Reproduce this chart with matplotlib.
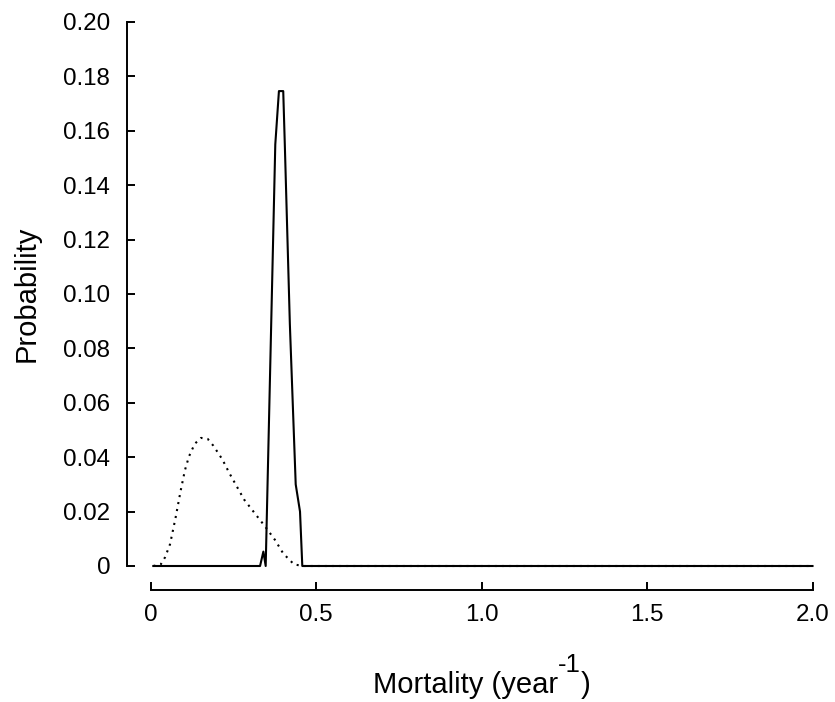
"""Probability of mortality: posterior (solid) and prior (dotted)"""

import numpy as np
import matplotlib
matplotlib.use("Agg")
import matplotlib.pyplot as plt

plt.rcParams['font.family'] = ['Liberation Sans', 'DejaVu Sans']

# solid curve
post_x = [0.0085, 0.331, 0.341, 0.348, 0.377, 0.388, 0.401, 0.406,
          0.421, 0.4387, 0.4517, 0.4586, 2.0]
post_p = [0.0, 0.0, 0.0053, 0.0, 0.155, 0.1746, 0.1746, 0.154,
          0.089, 0.030, 0.020, 0.0, 0.0]

# dotted curve
prior_x = [0.0085, 0.031, 0.044, 0.059, 0.076, 0.091, 0.104, 0.116, 0.1335,
           0.1526, 0.173, 0.190, 0.217, 0.238, 0.260, 0.283, 0.3136, 0.347,
           0.376, 0.401, 0.4335, 0.46, 2.0]
prior_p = [0.0, 0.0006, 0.0032, 0.0080, 0.0179, 0.0276, 0.0352, 0.0402, 0.0449,
           0.0471, 0.0467, 0.0442, 0.0392, 0.0342, 0.0294, 0.0244, 0.0196, 0.0144,
           0.0096, 0.0046, 0.0006, 0.0, 0.0]

xticks = [0, 0.5, 1.0, 1.5, 2.0]
xticklabels = ['0', '0.5', '1.0', '1.5', '2.0']
yticks = [0, 0.02, 0.04, 0.06, 0.08, 0.10, 0.12, 0.14, 0.16, 0.18, 0.20]
yticklabels = ['0'] + ['%.2f' % v for v in yticks[1:]]

W, H = 835, 702
fig = plt.figure(figsize=(W / 100, H / 100), dpi=100)
ax = fig.add_axes([150.5 / W, 1 - 566 / H, (812.5 - 150.5) / W, (566 - 22) / H])

ax.plot(prior_x, prior_p, color='black', lw=1.5, linestyle=(0, (1, 2.4)), clip_on=False)
ax.plot(post_x, post_p, color='black', lw=1.5, clip_on=False)

ax.set_xlim(0, 2)
ax.set_ylim(0, 0.2)
ax.spines['top'].set_visible(False)
ax.spines['right'].set_visible(False)
ax.spines['left'].set_position(('outward', 17))
ax.spines['bottom'].set_position(('outward', 17.3))
ax.spines['left'].set_bounds(0, 0.2)
ax.spines['bottom'].set_bounds(0, 2)
for s in ['left', 'bottom']:
    ax.spines[s].set_linewidth(1.4)

ax.set_xticks(xticks)
ax.set_xticklabels(xticklabels)
ax.set_yticks(yticks)
ax.set_yticklabels(yticklabels)
ax.tick_params(axis='y', direction='in', length=5.5, width=1.4, labelsize=17.4, pad=12)
ax.tick_params(axis='x', direction='in', length=5.5, width=1.4, labelsize=17.4, pad=10)

ax.set_ylabel('Probability', fontsize=21, labelpad=16)

# x label with a raised "-1", built from three pieces and centred under the axes
base_y = 1 - 693 / H
t1 = fig.text(0, base_y, 'Mortality (year', fontsize=21, va='baseline')
t2 = fig.text(0, 1 - 672 / H, '-1', fontsize=18.5, va='baseline')
t3 = fig.text(0, base_y, ')', fontsize=21, va='baseline')
r = fig.canvas.get_renderer()
w1 = t1.get_window_extent(r).width
w2 = t2.get_window_extent(r).width
w3 = t3.get_window_extent(r).width
x0 = 481.5 - (w1 + w2 + w3) / 2
t1.set_x(x0 / W)
t2.set_x((x0 + w1) / W)
t3.set_x((x0 + w1 + w2) / W)

fig.savefig('out.png', dpi=100)
